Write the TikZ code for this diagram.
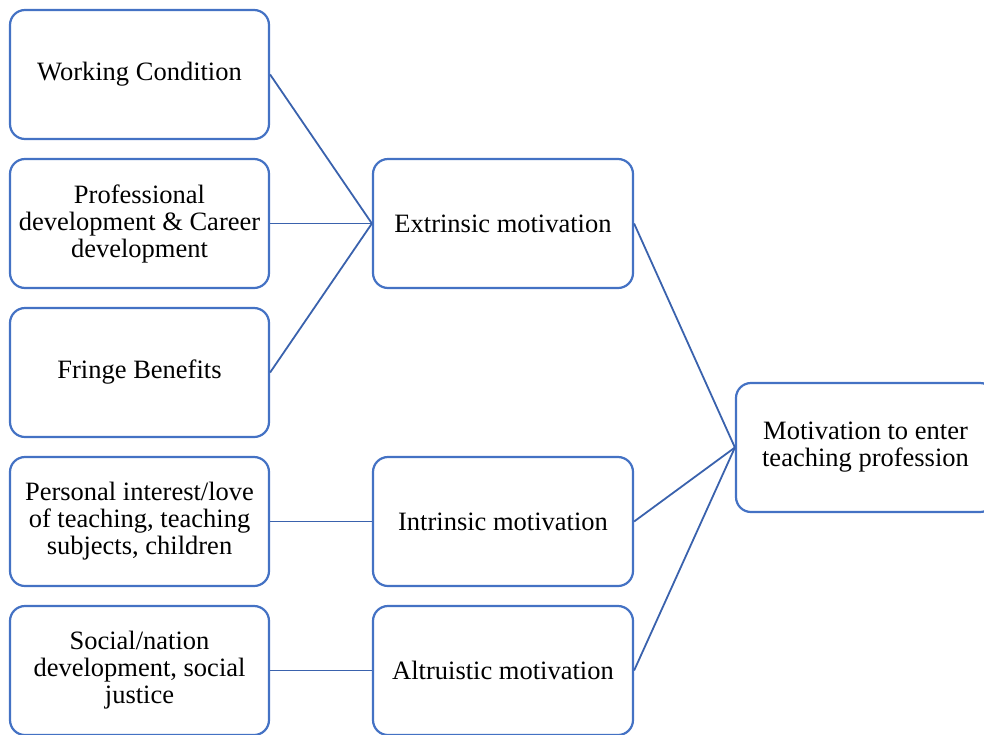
\documentclass[tikz,border=0pt]{standalone}
\usepackage{fontspec}
\setmainfont{Liberation Serif}
\definecolor{boxblue}{HTML}{4472C4}
\definecolor{lineblue}{HTML}{3A62AD}
\begin{document}
\begin{tikzpicture}[x=1pt,y=-1pt,
  box/.style={draw=boxblue,line width=2.2pt,rounded corners=15pt,fill=white,
    minimum width=259pt,minimum height=129pt,inner sep=2pt,align=center,
    font=\fontsize{26.5pt}{27pt}\selectfont},
  conn/.style={draw=lineblue,line width=1.8pt}]
\useasboundingbox (0,0) rectangle (984,734);
\node[box] (wc) at (139.5,74.5) {Working Condition};
\node[box] (pd) at (139.5,223.5) {Professional\\development \& Career\\development};
\node[box] (fb) at (139.5,372.5) {Fringe Benefits};
\node[box] (pi) at (139.5,521.5) {Personal interest/love\\of teaching, teaching\\subjects, children};
\node[box] (sn) at (139.5,670.5) {Social/nation\\development, social\\justice};
\node[box,minimum width=260pt] (em) at (503,223.5) {Extrinsic motivation};
\node[box,minimum width=260pt] (im) at (503,521.5) {Intrinsic motivation};
\node[box,minimum width=260pt] (am) at (503,670.5) {Altruistic motivation};
\node[box] (mt) at (865.5,447.5) {Motivation to enter\\teaching profession};
\draw[conn] (wc.east) -- (em.west);
\draw[conn] (pd.east) -- (em.west);
\draw[conn] (fb.east) -- (em.west);
\draw[conn] (pi.east) -- (im.west);
\draw[conn] (sn.east) -- (am.west);
\draw[conn] (em.east) -- (mt.west);
\draw[conn] (im.east) -- (mt.west);
\draw[conn] (am.east) -- (mt.west);
\end{tikzpicture}
\end{document}
